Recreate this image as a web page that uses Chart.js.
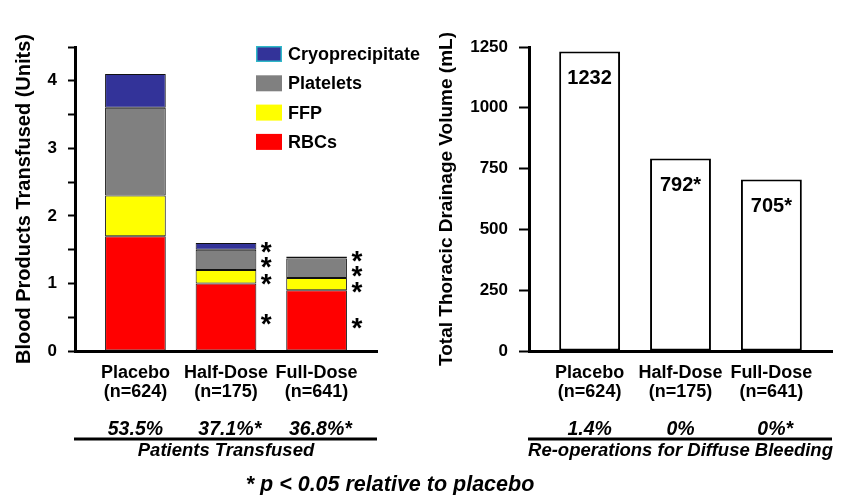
<!DOCTYPE html>
<html><head><meta charset="utf-8">
<script src="https://cdn.jsdelivr.net/npm/chart.js@4/dist/chart.umd.min.js"></script>
<style>
html,body{margin:0;padding:0;background:#fff;}
#wrap{position:relative;width:841px;height:495px;overflow:hidden;background:#fff;}
canvas{position:absolute;left:0;top:0;}
</style></head><body>
<div id="wrap"><canvas id="left" width="841" height="495"></canvas><canvas id="right" width="841" height="495"></canvas></div>
<script>
// ---------- data ----------
const categories = ['Placebo', 'Half-Dose', 'Full-Dose'];
const groupSizes = [624, 175, 641];
const rbcUnits = [1.7, 1.0, 0.9];
const ffpUnits = [0.6, 0.2, 0.18];
const plateletUnits = [1.3, 0.3, 0.29];
const cryoUnits = [0.5, 0.1, 0.03];
const unitsSignificant = [false, true, true];
const drainageMl = [1232, 792, 705];
const drainageSignificant = [false, true, true];
const transfusedPct = [53.5, 37.1, 36.8];
const transfusedSignificant = [false, true, true];
const reoperationPct = [1.4, 0, 0];
const reoperationSignificant = [false, false, true];
const unitsAxis = { min: 0, max: 4.5, step: 0.5 };
const drainageAxis = { min: 0, max: 1250, step: 250 };

// ---------- setup ----------
const FONT = "'Liberation Sans', Arial, Helvetica, sans-serif";
Chart.defaults.font.family = FONT;
Chart.defaults.color = '#000';
Chart.defaults.animation = false;
const H = 495;

const pts = arr => arr.map((v, i) => ({ x: i, y: v }));
const catTickLabel = i => [categories[i], '(n=' + groupSizes[i] + ')'];

function categoryAxis() {
  return {
    type: 'linear', min: -0.667, max: 2.667, stacked: true, offset: false, bounds: 'data',
    afterBuildTicks: s => { s.ticks = categories.map((c, i) => ({ value: i })); },
    ticks: { autoSkip: false, maxRotation: 0, minRotation: 0, padding: 13, color: '#000',
      font: { size: 18, weight: 'bold', lineHeight: '18.5px' },
      callback: v => catTickLabel(Math.round(v)) },
    grid: { drawOnChartArea: false, drawTicks: false, offset: false },
    border: { display: true, width: 3, color: '#000' },
    afterFit: s => { s.height = H - 351; }
  };
}

function drawBottomBlock(chart, pcts, sigs, groupLabel) {
  const { ctx, chartArea, scales: { x } } = chart;
  ctx.save();
  ctx.fillStyle = '#000';
  ctx.font = 'italic bold 19.5px ' + FONT;
  ctx.textBaseline = 'middle';
  pcts.forEach((p, i) => {
    const cx = x.getPixelForValue(i);
    const txt = p + '%';
    ctx.textAlign = 'center';
    ctx.fillText(txt, cx, 430);
    if (sigs[i]) {
      ctx.textAlign = 'left';
      ctx.fillText('*', cx + ctx.measureText(txt).width / 2, 430);
    }
  });
  ctx.strokeStyle = '#000';
  ctx.lineWidth = 3;
  ctx.beginPath();
  ctx.moveTo(chartArea.left - 1, 439);
  ctx.lineTo(chartArea.right, 439);
  ctx.stroke();
  ctx.font = 'italic bold 18.5px ' + FONT;
  ctx.textAlign = 'center';
  ctx.fillText(groupLabel, x.getPixelForValue(1), 450.5);
  ctx.restore();
}

function drawCenteredGlyph(ctx, txt, cx, cy) {
  const m = ctx.measureText(txt);
  const x = cx - (m.actualBoundingBoxRight - m.actualBoundingBoxLeft) / 2;
  const y = cy + (m.actualBoundingBoxAscent - m.actualBoundingBoxDescent) / 2;
  ctx.textAlign = 'left';
  ctx.textBaseline = 'alphabetic';
  ctx.fillText(txt, x, y);
}

// ---------- left chart ----------
const leftPlugin = {
  id: 'leftExtras',
  afterDraw(chart) {
    const { ctx } = chart;
    ctx.save();
    ctx.fillStyle = '#000';
    ctx.font = 'bold 28px ' + FONT;
    categories.forEach((c, i) => {
      if (!unitsSignificant[i]) return;
      let prev = null;
      chart.data.datasets.forEach((ds, di) => {
        const el = chart.getDatasetMeta(di).data[i];
        let cy = (el.y + el.base) / 2 + 3;
        if (prev !== null && cy > prev - 15) cy = prev - 15;
        prev = cy;
        drawCenteredGlyph(ctx, '*', el.x + el.width / 2 + 10, cy);
      });
    });
    const order = [3, 2, 1, 0];
    ctx.font = 'bold 18px ' + FONT;
    order.forEach((di, k) => {
      const ds = chart.data.datasets[di];
      const cy = 54 + k * 29.3;
      ctx.fillStyle = ds.backgroundColor;
      ctx.fillRect(256, cy - 8, 26, 16);
      if (ds.legendBorder) {
        ctx.strokeStyle = ds.legendBorder;
        ctx.lineWidth = 1.5;
        ctx.strokeRect(256.75, cy - 7.25, 24.5, 14.5);
      }
      ctx.fillStyle = '#000';
      ctx.textAlign = 'left';
      ctx.textBaseline = 'middle';
      ctx.fillText(ds.label, 288, cy + 1);
    });
    ctx.restore();
    drawBottomBlock(chart, transfusedPct, transfusedSignificant, 'Patients Transfused');
    ctx.save();
    ctx.fillStyle = '#000';
    ctx.font = 'italic bold 21.5px ' + FONT;
    ctx.textAlign = 'center';
    ctx.textBaseline = 'middle';
    ctx.fillText('* p < 0.05 relative to placebo', 390, 485);
    ctx.restore();
  }
};

const segStyle = { borderColor: '#111', borderWidth: 1, borderSkipped: false, barPercentage: 0.67, categoryPercentage: 1 };

new Chart(document.getElementById('left'), {
  type: 'bar',
  data: {
    datasets: [
      Object.assign({ label: 'RBCs', data: pts(rbcUnits), backgroundColor: '#ff0000' }, segStyle),
      Object.assign({ label: 'FFP', data: pts(ffpUnits), backgroundColor: '#ffff00' }, segStyle),
      Object.assign({ label: 'Platelets', data: pts(plateletUnits), backgroundColor: '#808080' }, segStyle),
      Object.assign({ label: 'Cryoprecipitate', data: pts(cryoUnits), backgroundColor: '#333399', legendBorder: '#2fb8c8' }, segStyle)
    ]
  },
  options: {
    responsive: false,
    layout: { padding: { left: 0, top: 47, right: 841 - 377, bottom: 0 } },
    plugins: { legend: { display: false }, tooltip: { enabled: false } },
    scales: {
      x: categoryAxis(),
      y: {
        min: unitsAxis.min, max: unitsAxis.max, stacked: true,
        ticks: { stepSize: unitsAxis.step, autoSkip: false, padding: 11, color: '#000',
          font: { size: 17, weight: 'bold' },
          callback: v => Number.isInteger(v) ? String(v) : '' },
        grid: { drawOnChartArea: false, drawTicks: true, tickLength: 7, tickWidth: 2, tickColor: '#000' },
        border: { display: true, width: 3, color: '#000' },
        title: { display: true, text: 'Blood Products Transfused (Units)', color: '#000',
          font: { size: 20, weight: 'bold', lineHeight: 1.2 }, padding: { top: 12, bottom: 0 } },
        afterFit: s => { s.width = 75; }
      }
    }
  },
  plugins: [leftPlugin]
});

// ---------- right chart ----------
const rightPlugin = {
  id: 'rightExtras',
  afterDraw(chart) {
    const { ctx } = chart;
    ctx.save();
    ctx.fillStyle = '#000';
    ctx.font = 'bold 20px ' + FONT;
    ctx.textAlign = 'center';
    ctx.textBaseline = 'middle';
    const meta = chart.getDatasetMeta(0);
    drainageMl.forEach((v, i) => {
      const el = meta.data[i];
      ctx.fillText(v + (drainageSignificant[i] ? '*' : ''), el.x, el.y + 27);
    });
    ctx.restore();
    drawBottomBlock(chart, reoperationPct, reoperationSignificant, 'Re-operations for Diffuse Bleeding');
  }
};

new Chart(document.getElementById('right'), {
  type: 'bar',
  data: {
    datasets: [{ label: 'Total Thoracic Drainage Volume (mL)', data: pts(drainageMl),
      backgroundColor: '#ffffff', borderColor: '#000', borderWidth: 2, borderSkipped: false,
      barPercentage: 0.67, categoryPercentage: 1 }]
  },
  options: {
    responsive: false,
    layout: { padding: { left: 420, top: 47, right: 841 - 832, bottom: 0 } },
    plugins: { legend: { display: false }, tooltip: { enabled: false } },
    scales: {
      x: categoryAxis(),
      y: {
        min: drainageAxis.min, max: drainageAxis.max,
        ticks: { stepSize: drainageAxis.step, autoSkip: false, padding: 11, color: '#000',
          font: { size: 17, weight: 'bold' }, callback: v => String(v) },
        grid: { drawOnChartArea: false, drawTicks: true, tickLength: 10, tickWidth: 2, tickColor: '#000' },
        border: { display: true, width: 3, color: '#000' },
        title: { display: true, text: 'Total Thoracic Drainage Volume (mL)', color: '#000',
          font: { size: 19, weight: 'bold', lineHeight: 1.2 }, padding: { top: 15.6, bottom: 0 } },
        afterFit: s => { s.width = 109; }
      }
    }
  },
  plugins: [rightPlugin]
});
</script>
</body></html>
